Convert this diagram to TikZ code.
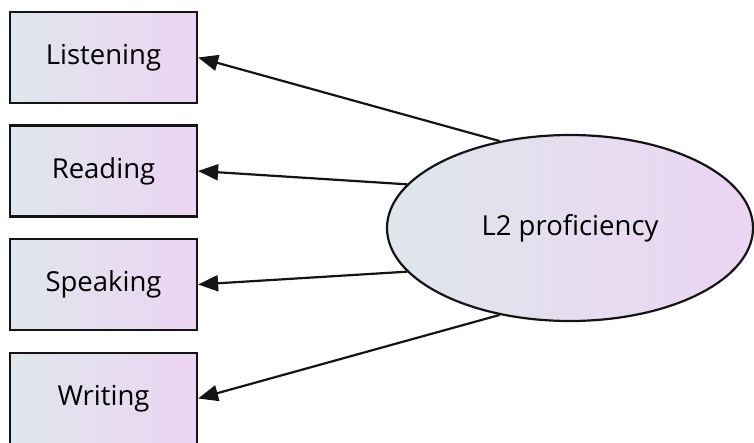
\documentclass[tikz,border=0pt]{standalone}
\usepackage{fontspec}
\setmainfont{Open Sans}
\usetikzlibrary{shapes.geometric,arrows.meta}

\definecolor{shadeL}{HTML}{DFE7EC}
\definecolor{shadeR}{HTML}{ECD4F3}
\definecolor{edge}{HTML}{141414}

\tikzset{
  indicator/.style={draw=edge, line width=2.2pt, rectangle,
    minimum width=187pt, minimum height=91pt, inner sep=0pt,
    left color=shadeL, right color=shadeR,
    font=\fontsize{27.5}{32}\selectfont},
  latent/.style={draw=edge, line width=2.2pt, ellipse,
    minimum width=366pt, minimum height=186pt, inner sep=0pt,
    left color=shadeL, right color=shadeR,
    font=\fontsize{27.5}{32}\selectfont},
  loading/.style={draw=edge, line width=2.2pt,
    -{Triangle[length=20pt, width=16pt]}},
}

\begin{document}
\begin{tikzpicture}[x=1pt, y=-1pt]
  \useasboundingbox (0,0) rectangle (754,442);
  \begin{scope}
    \clip (0,0) rectangle (754,442);
    \node[indicator] (lis) at (103.5,57.5)  {Listening};
    \node[indicator] (rea) at (103.5,171)   {Reading};
    \node[indicator] (spe) at (103.5,284.5) {Speaking};
    \node[indicator] (wri) at (103.5,398.5) {Writing};
    \node[latent]    (lat) at (570,228)     {L2 proficiency};

    \draw[loading] (lat.129) -- (lis.east);
    \draw[loading] (lat.165) -- (rea.east);
    \draw[loading] (lat.195) -- (spe.east);
    \draw[loading] (lat.231) -- (wri.east);
  \end{scope}
\end{tikzpicture}
\end{document}
